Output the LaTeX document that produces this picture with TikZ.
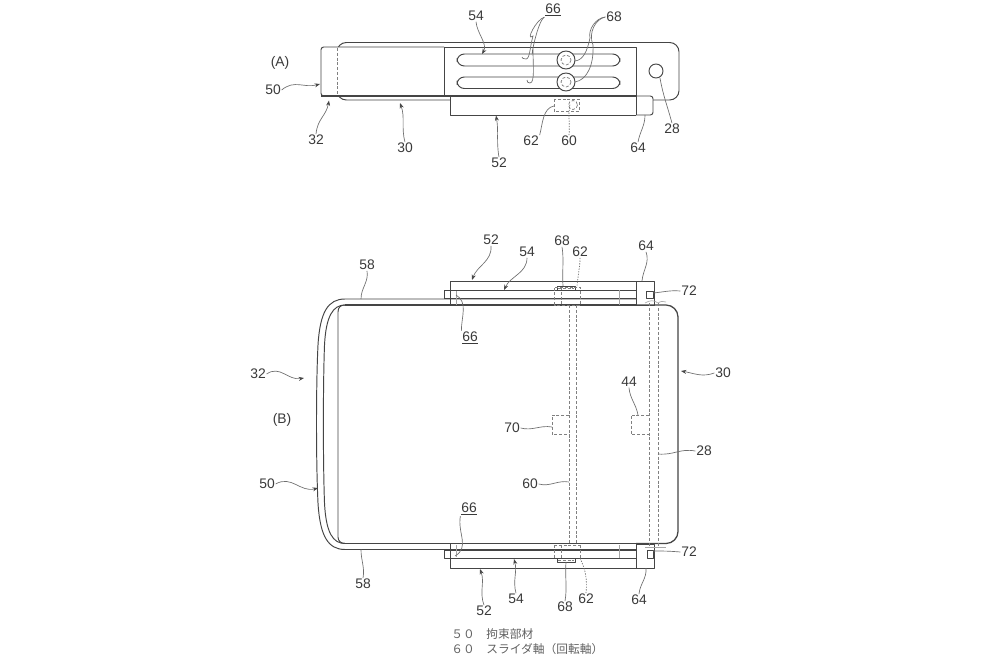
\documentclass[tikz,border=0pt]{standalone}
\usepackage{fontspec}
\setmainfont{Liberation Sans}
\newfontfamily\cjkfont{Noto Sans CJK JP}
\usetikzlibrary{arrows.meta}
\tikzset{
  part/.style={draw=linecol,line width=0.72pt,line join=round},
  heavy/.style={draw=linecol,line width=0.95pt,line join=round},
  hidden/.style={draw=hidcol,line width=0.55pt,dash pattern=on 2.2pt off 1.4pt},
  faint/.style={draw=hidcol!70,line width=0.45pt},
  lab/.style={inner sep=0.5pt,text=labcol,font=\fontsize{10.4}{12}\selectfont},
  ulab/.style={lab},
  lead/.style={draw=leadcol,line width=0.5pt},
  tip/.style={lead,-{Stealth[length=4pt,width=3pt,color=linecol]}},
  dotlead/.style={lead,dash pattern=on 1pt off 1pt},
}
\definecolor{linecol}{HTML}{454545}
\definecolor{hidcol}{HTML}{808080}
\definecolor{labcol}{HTML}{3A3A3A}
\definecolor{leadcol}{HTML}{6E6E6E}
\begin{document}
\begin{tikzpicture}[x=0.75pt,y=-0.75pt]
\useasboundingbox[fill=white] (0,0) rectangle (1000,667);

% ===== Panel A =====
\draw[part,rounded corners=7pt] (450,100) -- (337,100) -- (337,42.5) -- (679,42.5) -- (679,100) -- (653,100);
\fill[white] (326,47.5) rectangle (636,95.5);
\draw[part,rounded corners=2pt] (444,96) -- (321,96) -- (321,47) -- (444,47);
\draw[part] (444,47) -- (636,47) -- (636,115);
\draw[part] (444,47) -- (444,96);
\draw[heavy] (321,96) -- (636,96);
\draw[hidden] (337,48) -- (337,95);
\draw[part,rounded corners=5.5pt] (620,54) -- (620,66) -- (457,66) -- (457,54) -- cycle;
\draw[part,rounded corners=5.5pt] (620,77) -- (620,88.5) -- (457,88.5) -- (457,77) -- cycle;
\foreach \cy in {60,82}{
  \fill[white] (566,\cy) circle (9);
  \draw[part] (566,\cy) circle (9);
  \draw[hidden] (566,\cy) circle (5);
}
\draw[part] (450,96) -- (450,115) -- (636,115);
\draw[part,rounded corners=2pt] (636,96) -- (653,96) -- (653,115) -- (636,115);
\draw[part] (656,71) circle (7);
\draw[hidden] (554,99) rectangle (579,111);
\draw[hidden] (573,105) circle (4.5);

% ===== Panel B =====
\draw[heavy,rounded corners=9pt] (636,305) -- (678,305) -- (678,543.5) -- (636,543.5);
\draw[heavy] (345,305) -- (636,305);
\draw[heavy] (345,543.5) -- (636,543.5);
\draw[part] (345,305) .. controls (341,305) and (338,307) .. (338,312) -- (338,537) .. controls (338,541) and (341,543.5) .. (345,543.5);
% band 50
\draw[part] (636,299) -- (345,299) .. controls (328,299) and (320,312) .. (318,345) .. controls (316,385) and (316,462) .. (318,503) .. controls (320,536) and (328,549.5) .. (345,549.5) -- (636,549.5);
\draw[part] (345,305) .. controls (333,305) and (326,316) .. (324.5,345) .. controls (323,385) and (323,462) .. (324.5,503) .. controls (326,533) and (333,543.5) .. (345,543.5);
% top plates
\draw[part] (450,305) -- (450,281) -- (654,281) -- (654,305) -- (636,305);
\draw[part] (636,281) -- (636,305);
\draw[part] (636,290) -- (444,290) -- (444,299);
\draw[heavy] (444,298.5) -- (636,298.5);
% bottom plates
\draw[part] (450,544) -- (450,568) -- (654,568) -- (654,544) -- (636,544);
\draw[part] (636,544) -- (636,568);
\draw[part] (636,558) -- (444,558) -- (444,549.5);
\draw[heavy] (444,550) -- (636,550);
% pins 68
\draw[part] (557,290) -- (557,286) -- (575,286) -- (575,290);
\draw[hidden] (558,288) -- (574,288);
\draw[part] (557,558) -- (557,562) -- (575,562) -- (575,558);
\draw[hidden] (558,560) -- (574,560);
% 62 hidden boxes
\draw[hidden] (554,305) -- (554,287) -- (580,287) -- (580,305) -- cycle;
\draw[hidden] (561,287) -- (561,305);
\draw[hidden] (554,545) -- (554,558) (580,558) -- (580,545) (554,545) -- (580,545);
\draw[hidden] (561,545) -- (561,558);
% shafts
\draw[hidden] (569,305) -- (569,545);
\draw[hidden] (576,305) -- (576,545);
\draw[hidden] (649,303) -- (649,546);
\draw[hidden] (658,303) -- (658,546);
% hidden boxes 70 and 44
\draw[hidden] (569,415) -- (552,415) -- (552,434) -- (569,434);
\draw[hidden] (649,415) -- (631,415) -- (631,434) -- (649,434);
% 72
\draw[part] (646,291) rectangle (653,298);
\draw[part] (647,550) rectangle (653,558);
% faint details
\draw[faint] (619,290) -- (619,305) (619,545) -- (619,558);
\draw[faint] (456,291) -- (456,305) (456,545) -- (456,557);
\draw[faint] (645,303) .. controls (650,300) and (654,300) .. (658,303) .. controls (661,301) and (663,301) .. (666,302);
\draw[faint] (645,547) -- (666,547);

% ===== Labels =====
\node[lab] (pa) at (280,62.5) {(A)};
\node[lab] (pb) at (282,420) {(B)};
\node[lab] (a50) at (273,90) {50};
\node[lab] (a32) at (316,140) {32};
\node[lab] (a30) at (405,148) {30};
\node[lab] (a54) at (476,16) {54};
\node[ulab] (a66) at (553,10) {\underline{66}};
\node[lab] (a68) at (614,17) {68};
\node[lab] (a28) at (672,129) {28};
\node[lab] (a64) at (638,148) {64};
\node[lab] (a60) at (569,141) {60};
\node[lab] (a62) at (531,141) {62};
\node[lab] (a52) at (499,163) {52};

\node[lab] (b52) at (491,240) {52};
\node[lab] (b54) at (527,252) {54};
\node[lab] (b68) at (562,241) {68};
\node[lab] (b62) at (580,252) {62};
\node[lab] (b64) at (646,246) {64};
\node[lab] (b72) at (689,291) {72};
\node[lab] (b58) at (367,265) {58};
\node[ulab] (b66) at (470,338) {\underline{66}};
\node[lab] (b32) at (258,374) {32};
\node[lab] (b50) at (267,484) {50};
\node[lab] (b30) at (723,373) {30};
\node[lab] (b44) at (629,382) {44};
\node[lab] (b70) at (512,428) {70};
\node[lab] (b60) at (530,484) {60};
\node[lab] (b28) at (704,451) {28};
\node[ulab] (c66) at (469,509) {\underline{66}};
\node[lab] (c58) at (363,584) {58};
\node[lab] (c52) at (484,611) {52};
\node[lab] (c54) at (516,599) {54};
\node[lab] (c68) at (565,607) {68};
\node[lab] (c62) at (586,599) {62};
\node[lab] (c64) at (639,600) {64};
\node[lab] (c72) at (689,552) {72};

\node[anchor=west,inner sep=0pt,text=labcol!80,font=\cjkfont\fontsize{8.8}{10}\selectfont] (capa) at (451,634) {５０　拘束部材};
\node[anchor=west,inner sep=0pt,text=labcol!80,font=\cjkfont\fontsize{8.8}{10}\selectfont] (capb) at (451,649) {６０　スライダ軸（回転軸）};

% ===== Leader ends =====
\coordinate (ea50) at (320,84);
\coordinate (ea32) at (329,100.5);
\coordinate (ea30) at (400,103);
\coordinate (ea54) at (482,54);
\coordinate (ea66a) at (522,57);
\coordinate (ea66b) at (527,80);
\coordinate (ea68a) at (575,61);
\coordinate (ea68b) at (575,82);
\coordinate (ea28) at (660,78);
\coordinate (ea64) at (645,115);
\coordinate (ea60) at (570,104);
\coordinate (ea62) at (554,106);
\coordinate (ea52) at (496,115.5);
\coordinate (eb52) at (472,280);
\coordinate (eb54) at (504,290);
\coordinate (eb68) at (563,286);
\coordinate (eb62) at (577,287);
\coordinate (eb64) at (642,281);
\coordinate (eb72) at (653,293);
\coordinate (eb58) at (361,299);
\coordinate (eb66) at (456,295);
\coordinate (eb32) at (304,378);
\coordinate (eb50) at (318,488);
\coordinate (eb30) at (681,371);
\coordinate (eb44) at (638,415);
\coordinate (eb70) at (552,427);
\coordinate (eb60) at (569,482);
\coordinate (eb28) at (658,454);
\coordinate (ec66) at (455,556);
\coordinate (ec58) at (361,549.5);
\coordinate (ec52) at (480,569);
\coordinate (ec54) at (514,559);
\coordinate (ec68) at (566,562);
\coordinate (ec62) at (580,558);
\coordinate (ec64) at (646,568);
\coordinate (ec72) at (653,551);

% ===== Leaders =====
\draw[tip] (a50.east) to[out=40,in=195,looseness=1.1] (ea50);
\draw[tip] (a32.north) to[out=85,in=-100,looseness=1.1] (ea32);
\draw[tip] (a30.north) to[out=105,in=-70,looseness=1.0] (ea30);
\draw[tip] (a54.south) to[out=-85,in=60,looseness=0.9] (ea54);
\draw[lead] (a66.south west) .. controls +(-8,2) and +(-8,6) .. (533,36) .. controls (530,46) and (530,59) .. (526,59) .. controls (523,59) and (522,58) .. (ea66a);
\draw[lead] (a66.south west) .. controls +(-7,4) and +(-3,12) .. (533,50) .. controls (533,65) and (535,83) .. (530,83) .. controls (528,83) and (527,82) .. (ea66b);
\draw[lead] (a68.west) .. controls +(-10,1) and +(-2,-8) .. (590,38) .. controls (587,52) and (583,60) .. (ea68a);
\draw[lead] (a68.west) .. controls +(-10,2) and +(-5,-12) .. (593,45) .. controls (594,65) and (587,80) .. (ea68b);
\draw[lead] (a28.north) to[out=105,in=-80,looseness=1] (ea28);
\draw[lead] (a64.north) to[out=80,in=-90,looseness=1] (ea64);
\draw[dotlead] (a60.north) to[out=85,in=-100,looseness=1.1] (ea60);
\draw[lead] (a62.north east) to[out=75,in=190,looseness=0.9] (ea62);
\draw[tip] (a52.north) to[out=100,in=-80,looseness=1] (ea52);

\draw[tip] (b52.south) to[out=-85,in=70,looseness=1] (eb52);
\draw[tip] (b54.south) to[out=-90,in=65,looseness=1] (eb54);
\draw[lead] (b68.south) to[out=-80,in=95,looseness=0.8] (eb68);
\draw[dotlead] (b62.south) to[out=-85,in=90,looseness=0.5] (eb62);
\draw[lead] (b64.south) to[out=-70,in=85,looseness=1] (eb64);
\draw[lead] (b72.west) to[out=175,in=5,looseness=1] (eb72);
\draw[lead] (b58.south) to[out=-80,in=90,looseness=1] (eb58);
\draw[lead] (b66.north west) to[out=90,in=-30,looseness=1] (eb66);
\draw[tip] (b32.east) to[out=35,in=190,looseness=1.1] (eb32);
\draw[tip] (b50.east) to[out=30,in=195,looseness=1.1] (eb50);
\draw[tip] (b30.west) to[out=200,in=-10,looseness=1] (eb30);
\draw[lead] (b44.south) to[out=-85,in=100,looseness=1] (eb44);
\draw[lead] (b70.east) to[out=-15,in=170,looseness=1] (eb70);
\draw[lead] (b60.east) to[out=-15,in=170,looseness=1] (eb60);
\draw[lead] (b28.west) to[out=170,in=-5,looseness=1.1] (eb28);
\draw[lead] (c66.south west) to[out=-100,in=30,looseness=1.1] (ec66);
\draw[lead] (c58.north) to[out=80,in=-90,looseness=1] (ec58);
\draw[tip] (c52.north) to[out=110,in=-70,looseness=1] (ec52);
\draw[tip] (c54.north) to[out=105,in=-75,looseness=1] (ec54);
\draw[lead] (c68.north) to[out=80,in=-95,looseness=0.9] (ec68);
\draw[dotlead] (c62.north) to[out=85,in=-65,looseness=1] (ec62);
\draw[lead] (c64.north) to[out=85,in=-85,looseness=1] (ec64);
\draw[lead] (c72.west) to[out=175,in=0,looseness=1] (ec72);
\end{tikzpicture}
\end{document}
